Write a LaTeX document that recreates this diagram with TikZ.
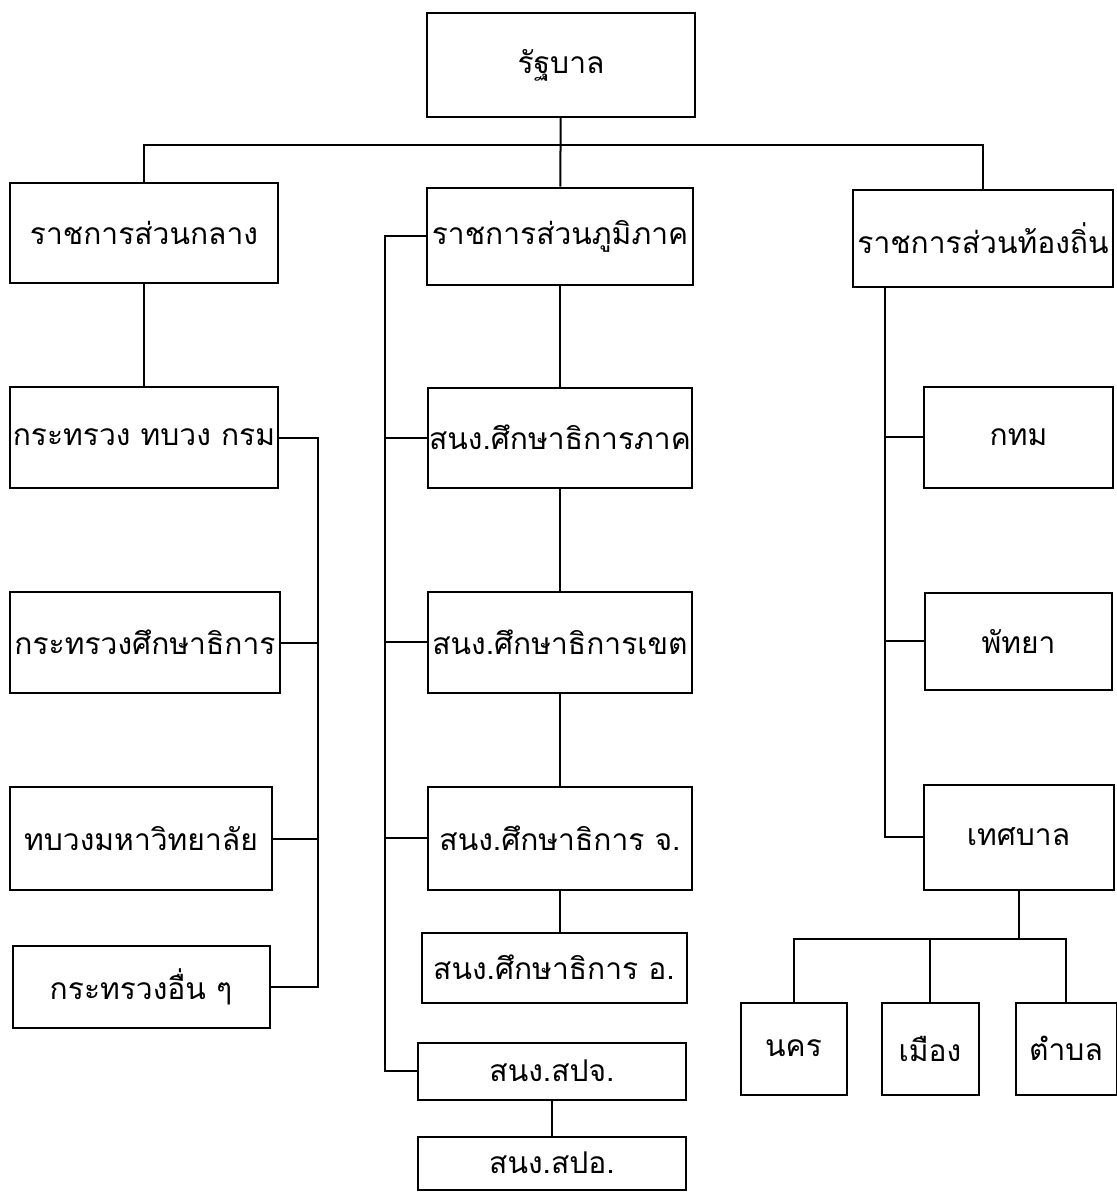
\documentclass[tikz,border=0pt]{standalone}
\usepackage{fontspec}
\newfontfamily\thaifont[Script=Thai]{Loma}
\usetikzlibrary{positioning}

\begin{document}
\begin{tikzpicture}[
        x=0.5pt, y=0.5pt,
        unit/.style = {draw, black, line width=1pt, inner sep=0pt, font=\thaifont\fontsize{15}{18}\selectfont},
        link/.style = {line width=1pt}
    ]
    \useasboundingbox (0,0) rectangle (1116,-1196);

    % top level
    \node[unit, minimum width=134pt, minimum height=52pt] (gov) at (561,-65) {\makebox[0pt]{รัฐบาล}};
    \node[unit, minimum width=134pt, minimum height=50pt] (central) at (144,-233) {\makebox[0pt]{ราชการส่วนกลาง}};
    \node[unit, minimum width=133pt, minimum height=48.5pt] (regional) at (560,-236) {\makebox[0pt]{ราชการส่วนภูมิภาค}};
    \node[unit, minimum width=130pt, minimum height=48.5pt] (local) at (983,-238) {\makebox[0pt]{ราชการส่วนท้องถิ่น}};

    % central column
    \node[unit, below=51pt of central, minimum width=134pt, minimum height=50.5pt] (ministry) {\makebox[0pt]{กระทรวง ทบวง กรม}};
    \node[unit, below=51pt of ministry, xshift=0.5pt, minimum width=135pt, minimum height=50.5pt] (moe) {\makebox[0pt]{กระทรวงศึกษาธิการ}};
    \node[unit, below=46pt of moe, xshift=-2pt, minimum width=131pt, minimum height=51.5pt] (univ) {\makebox[0pt]{ทบวงมหาวิทยาลัย}};
    \node[unit, below=27pt of univ, minimum width=128.5pt, minimum height=41pt] (otherm) {\makebox[0pt]{กระทรวงอื่น ๆ}};

    % regional column
    \node[unit, below=50.5pt of regional, minimum width=132pt, minimum height=50pt] (region) {\makebox[0pt]{สนง.ศึกษาธิการภาค}};
    \node[unit, below=51pt of region, minimum width=132pt, minimum height=50.5pt] (zone) {\makebox[0pt]{สนง.ศึกษาธิการเขต}};
    \node[unit, below=46pt of zone, minimum width=132pt, minimum height=51.5pt] (prov) {\makebox[0pt]{สนง.ศึกษาธิการ จ.}};
    \node[unit, below=20.5pt of prov, xshift=-3pt, minimum width=132.5pt, minimum height=35pt] (dist) {\makebox[0pt]{สนง.ศึกษาธิการ อ.}};
    \node[unit, below=19pt of dist, xshift=-1pt, minimum width=134pt, minimum height=28.5pt] (pnep) {\makebox[0pt]{สนง.สปจ.}};
    \node[unit, below=17.5pt of pnep, minimum width=134pt, minimum height=26.5pt] (dnep) {\makebox[0pt]{สนง.สปอ.}};

    % local column
    \node[unit, below=49pt of local, xshift=17.75pt, minimum width=94.5pt, minimum height=50.5pt] (bkk) {\makebox[0pt]{กทม}};
    \node[unit, below=51.5pt of bkk, minimum width=93.5pt, minimum height=48.5pt] (pattaya) {\makebox[0pt]{พัทยา}};
    \node[unit, below=46.5pt of pattaya, minimum width=95pt, minimum height=52.5pt] (muni) {\makebox[0pt]{เทศบาล}};
    \node[unit, below=55.5pt of muni, xshift=-44.25pt, minimum width=48.5pt, minimum height=46pt] (mueang) {\makebox[0pt]{เมือง}};
    \node[unit, left=16.5pt of mueang, minimum width=53pt, minimum height=46pt] (nakhon) {\makebox[0pt]{นคร}};
    \node[unit, right=17.5pt of mueang, minimum width=50.5pt, minimum height=46pt] (tambon) {\makebox[0pt]{ตำบล}};

    % spines
    \coordinate (bus) at (561,-145);
    \coordinate (lspine) at (318,0);
    \coordinate (mspine) at (385,0);
    \coordinate (rspine) at (885,0);
    \coordinate (mbus) at (0,-939);

    \draw[link] (gov) -- (regional);
    \draw[link] (central.north) |- (bus) -| (local.north);
    \draw[link] (central) -- (ministry);

    \draw[link] (ministry.east) -- (ministry.east -| lspine) -- (otherm.east -| lspine) -- (otherm.east);
    \foreach \n in {moe, univ}
        \draw[link] (\n.east) -- (\n.east -| lspine);

    \draw[link] (regional.west) -- (regional.west -| mspine) -- (pnep.west -| mspine) -- (pnep.west);
    \foreach \n in {region, zone, prov}
        \draw[link] (\n.west) -- (\n.west -| mspine);
    \foreach \a/\b in {regional/region, region/zone, zone/prov, prov/dist, pnep/dnep}
        \draw[link] (\a.south) -- (\a.south |- \b.north);

    \draw[link] (local.south -| rspine) -- (muni.west -| rspine) -- (muni.west);
    \foreach \n in {bkk, pattaya}
        \draw[link] (\n.west) -- (\n.west -| rspine);
    \draw[link] (muni.south) -- (muni.south |- mbus);
    \draw[link] (nakhon.north) |- (tambon.north |- mbus) -- (tambon.north);
    \draw[link] (mueang.north) -- (mueang.north |- mbus);
\end{tikzpicture}
\end{document}
